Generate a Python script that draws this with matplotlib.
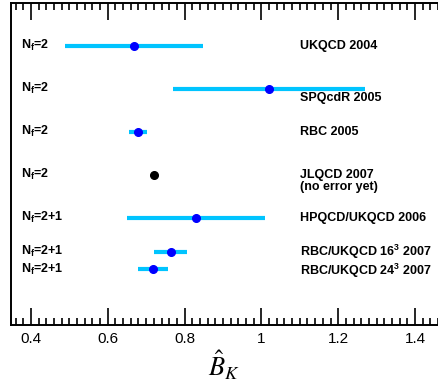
import matplotlib
matplotlib.use("Agg")
import matplotlib.pyplot as plt
from matplotlib.ticker import MultipleLocator

plt.rcParams["font.family"] = ["Liberation Sans", "DejaVu Sans"]
plt.rcParams["mathtext.fontset"] = "custom"
plt.rcParams["mathtext.bf"] = "Liberation Sans:bold"
plt.rcParams["mathtext.rm"] = "Liberation Sans:bold"

# B_K results, central value with error range
groups = ["UKQCD 2004", "SPQcdR 2005", "RBC 2005", "JLQCD 2007",
          "HPQCD/UKQCD 2006", r"RBC/UKQCD 16$^\mathbf{3}$ 2007",
          r"RBC/UKQCD 24$^\mathbf{3}$ 2007"]
nf = ["2", "2", "2", "2", "2+1", "2+1", "2+1"]
bk = [0.668, 1.019, 0.678, 0.721, 0.830, 0.764, 0.718]
bk_lo = [0.489, 0.769, 0.655, None, 0.649, 0.721, 0.679]
bk_hi = [0.848, 1.270, 0.703, None, 1.009, 0.807, 0.758]

# row layout (top to bottom)
rows = [6.5, 5.5, 4.5, 3.5, 2.5, 1.7, 1.3]

fig = plt.figure(figsize=(4.38, 3.83), dpi=100)
ax = fig.add_axes([0.0251, 0.1514, 0.975, 0.842])

for i, (v, lo, hi, y) in enumerate(zip(bk, bk_lo, bk_hi, rows)):
    if lo is None:
        ax.plot(v, y, "o", color="black", ms=5.5, zorder=3)
    else:
        ax.hlines(y, lo, hi, color="#00c4ff", lw=3, zorder=2)
        ax.plot(v, y, "o", color="#0000ff", ms=5.5, zorder=3)

    ax.text(0.375, y, r"N$_\mathbf{f}$=" + nf[i], fontsize=9, fontweight="bold",
            va="center", ha="left")

label_dy = [0, -0.21, 0, 0, 0, 0, -0.04]
for g, y, dy in zip(groups, rows, label_dy):
    ax.text(1.10, y + dy, g, fontsize=9, fontweight="bold", va="center", ha="left")
ax.text(1.10, rows[3] - 0.30, "(no error yet)", fontsize=9, fontweight="bold",
        va="center", ha="left")

ax.set_xlim(0.348, 1.46)
ax.set_ylim(0, 7.5)
ax.set_yticks([])
ax.set_xlabel(r"$\hat{B}_K$", fontsize=19, math_fontfamily="stix", labelpad=2)
ax.spines["right"].set_visible(False)
for s in ["left", "bottom", "top"]:
    ax.spines[s].set_linewidth(1.4)

ax.xaxis.set_major_locator(MultipleLocator(0.2))
ax.xaxis.set_minor_locator(MultipleLocator(0.02))
ax.xaxis.set_major_formatter(lambda v, pos: f"{v:g}")
ax.tick_params(axis="x", which="both", direction="in", top=True, bottom=True,
               width=1.2, color="black", labelsize=11, pad=5)
ax.tick_params(axis="x", which="major", length=12.5)
ax.tick_params(axis="x", which="minor", length=5)

fig.savefig("out.png", dpi=100)
